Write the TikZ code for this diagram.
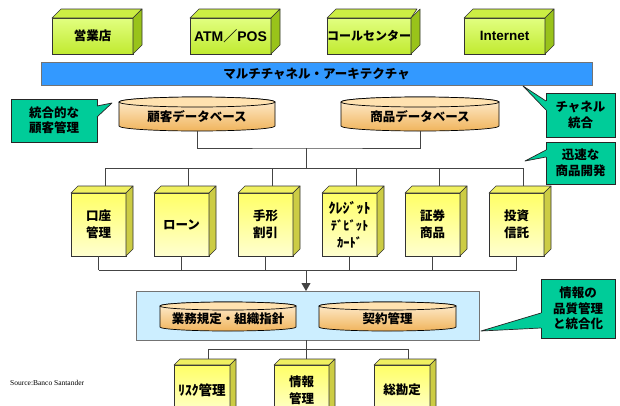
\documentclass[tikz,border=0pt]{standalone}
\usepackage{fontspec}
\setmainfont{Noto Sans CJK JP}
\newfontfamily\lat{Liberation Sans}
\newfontfamily\ser{Liberation Serif}
\usetikzlibrary{arrows.meta}
\definecolor{gfa}{HTML}{E2FF80}
\definecolor{gfb}{HTML}{C0EA30}
\definecolor{gtop}{HTML}{CCEE44}
\definecolor{gside}{HTML}{99C31A}
\definecolor{yfa}{HTML}{FFFF66}
\definecolor{yfb}{HTML}{FFFFD0}
\definecolor{ytop}{HTML}{F0F060}
\definecolor{yside}{HTML}{CCCC44}
\definecolor{cyla}{HTML}{FFF0D6}
\definecolor{cylb}{HTML}{FFD89C}
\definecolor{cylc}{HTML}{F0B45C}
\definecolor{cyltop}{HTML}{FFE2B0}
\definecolor{tealc}{HTML}{00CC99}
\definecolor{barblue}{HTML}{3399FF}
\definecolor{lblue}{HTML}{CCEEFF}
\definecolor{linec}{HTML}{444444}
\tikzset{
  boldtxt/.style={font=\fontsize{12.5}{15}\selectfont\bfseries},
  gfront/.style={draw=black!80, line width=0.6pt, top color=gfa, bottom color=gfb,
    inner sep=0pt, outer sep=0pt, align=center, font=\fontsize{12.5}{15}\selectfont\bfseries},
  gtopf/.style={draw=black!80, line width=0.6pt, fill=gtop, line join=round},
  gsidef/.style={draw=black!80, line width=0.6pt, fill=gside, line join=round},
  yfront/.style={draw=black!80, line width=0.6pt, top color=yfa, bottom color=yfb,
    inner sep=0pt, outer sep=0pt, align=center, font=\fontsize{12.5}{17}\selectfont\bfseries},
  ytopf/.style={draw=black!80, line width=0.6pt, fill=ytop, line join=round},
  ysidef/.style={draw=black!80, line width=0.6pt, fill=yside, line join=round},
  cylbody/.style={draw=black, line width=0.7pt, top color=cyla, middle color=cylb, bottom color=cylc},
  cyltopf/.style={draw=black, line width=0.7pt, fill=cyltop},
  cyltext/.style={inner sep=0pt, outer sep=0pt, font=\fontsize{12.5}{15}\selectfont\bfseries},
  callbox/.style={draw=black!85, line width=0.7pt, fill=tealc, inner sep=0pt, outer sep=0pt,
    align=center, font=\fontsize{12.5}{15.5}\selectfont\bfseries},
  calline/.style={draw=black!85, line width=0.7pt, line join=round},
  conn/.style={draw=linec, line width=0.8pt},
}
\newcommand\mycube[8]{%
  \node[#7front, minimum width=#4pt, minimum height=#5pt, anchor=north west] (#1) at (#2,#3) {#8};
  \filldraw[#7topf] (#1.north west) -- ++(#6,-#6) -- ++(#4,0) -- (#1.north east) -- cycle;
  \filldraw[#7sidef] (#1.north east) -- ++(#6,-#6) -- ++(0,#5) -- (#1.south east) -- cycle;
  \coordinate (#1-t) at ([shift={(#6,-#6)}]#1.north);
}
\newcommand\mycyl[7]{%
  \pgfmathsetmacro\cx{(#2+#3)/2}%
  \pgfmathsetmacro\rx{(#3-#2)/2}%
  \pgfmathsetmacro\ya{#4+#6}%
  \pgfmathsetmacro\yb{#5-#6}%
  \pgfmathsetmacro\hh{#5-\ya}%
  \pgfmathsetmacro\ww{#3-#2}%
  \pgfmathsetmacro\ym{(\ya+#5)/2}%
  \path[cylbody] (#2,\ya) -- (#2,\yb) arc[start angle=180, end angle=0, x radius=\rx, y radius=#6]
     -- (#3,\ya) arc[start angle=0, end angle=-180, x radius=\rx, y radius=#6] -- cycle;
  \filldraw[cyltopf] (\cx,\ya) ellipse[x radius=\rx, y radius=#6];
  \node[cyltext, minimum width=\ww pt, minimum height=\hh pt] (#1) at (\cx,\ym) {#7};
}
\begin{document}
\begin{tikzpicture}[x=1pt,y=-1pt]
\useasboundingbox (0,0) rectangle (620,405);
% channel boxes
\mycube{eig}{52}{18}{81}{36}{9}{g}{営業店}
\mycube{atm}{190}{18}{81}{36}{9}{g}{\fontsize{14}{16}\selectfont{\lat ATM}／{\lat POS}}
\mycube{call}{327}{18}{81}{36}{9}{g}{\fontsize{12}{14}\selectfont コールセンター}
\mycube{inet}{464}{18}{81}{36}{9}{g}{\fontsize{13.5}{16}\selectfont{\lat Internet}}
% bar
\node[draw=black!55, line width=0.7pt, fill=barblue, minimum width=551pt, minimum height=23pt,
  anchor=north west, inner sep=0pt, outer sep=0pt, boldtxt] (bar) at (41,62) {マルチチャネル・アーキテクチャ};
% databases
\mycyl{kdb}{119}{275}{97}{131}{5}{顧客データベース}
\mycyl{sdb}{341}{499}{97}{131}{5}{商品データベース}
% callouts
\node[callbox, minimum width=86pt, minimum height=43pt, anchor=north west] (c1) at (11,99) {統合的な\\顧客管理};
\fill[tealc] (97,106) -- (112,103) -- (97,117) -- (95,117) -- (95,106) -- cycle;
\draw[calline] (97,106) -- (112,103) -- (97,117);
\node[callbox, minimum width=69pt, minimum height=44pt, anchor=north west] (c2) at (546,93) {チャネル\\統合};
\fill[tealc] (546,101) -- (523,86) -- (546,110) -- (548,110) -- (548,101) -- cycle;
\draw[calline] (546,101) -- (523,86) -- (546,110);
\node[callbox, minimum width=69pt, minimum height=42pt, anchor=north west] (c3) at (546,142) {迅速な\\商品開発};
\fill[tealc] (546,150) -- (525,161) -- (546,157) -- (548,157) -- (548,150) -- cycle;
\draw[calline] (546,150) -- (525,161) -- (546,157);
% product boxes
\mycube{p1}{71}{193}{55}{63}{7}{y}{口座\\管理}
\mycube{p2}{154}{193}{55}{63}{7}{y}{ローン}
\mycube{p3}{238}{193}{55}{63}{7}{y}{手形\\割引}
\mycube{p4}{322}{193}{55}{63}{7}{y}{\fontsize{14}{14.5}\selectfont ｸﾚｼﾞｯﾄ\\ﾃﾞﾋﾞｯﾄ\\ｶｰﾄﾞ}
\mycube{p5}{405}{193}{55}{63}{7}{y}{証券\\商品}
\mycube{p6}{489}{193}{55}{63}{7}{y}{投資\\信託}
% info box
\node[draw=black!55, line width=0.8pt, fill=lblue, minimum width=343pt, minimum height=49pt,
  anchor=north west, inner sep=0pt, outer sep=0pt] (info) at (136,291) {};
\mycyl{gyomu}{160}{296}{302}{331}{4}{業務規定・組織指針}
\mycyl{keiyaku}{319}{456}{302}{331}{4}{契約管理}
\node[callbox, minimum width=74pt, minimum height=59pt, anchor=north west] (c4) at (541,279) {情報の\\品質管理\\と統合化};
\fill[tealc] (541,313) -- (481,331) -- (541,328) -- (543,328) -- (543,313) -- cycle;
\draw[calline] (541,313) -- (481,331) -- (541,328);
% bottom boxes
\mycube{b1}{174}{365}{56}{50}{6}{y}{\fontsize{13.5}{15}\selectfont ﾘｽｸ管理}
\mycube{b2}{274}{365}{55}{50}{6}{y}{情報\\管理}
\mycube{b3}{374}{365}{56}{50}{6}{y}{総勘定}
% source
\node[anchor=west, inner sep=0pt, font=\ser\fontsize{7.5}{9}\selectfont] (src) at (10,383) {Source:Banco Santander};
% connectors
\coordinate (j1) at (306,148);
\coordinate (j2) at (306,168);
\coordinate (j3) at (306,270);
\coordinate (j4) at (306,349);
\draw[conn] (kdb.south) |- (j1) -| (sdb.south);
\draw[conn] (j1) -- (j2);
\draw[conn] (j2 -| p1-t) -- (j2 -| p6-t);
\foreach \p in {p1,p2,p3,p4,p5,p6}{
  \draw[conn] (j2 -| \p-t) -- (\p-t);
  \draw[conn] (\p.south) -- (\p.south |- j3);
}
\draw[conn] (p1.south |- j3) -- (p6.south |- j3);
\draw[conn, -{Triangle[length=8pt,width=9pt]}] (j3) -- (j3 |- info.north);
\draw[conn] (j4 |- info.south) -- (j4);
\draw[conn] (j4 -| b1-t) -- (j4 -| b3-t);
\draw[conn] (j4 -| b1-t) -- (b1-t);
\draw[conn] (j4 -| b3-t) -- (b3-t);
\draw[conn] (j4) -- (j4 |- b2-t);
\end{tikzpicture}
\end{document}
